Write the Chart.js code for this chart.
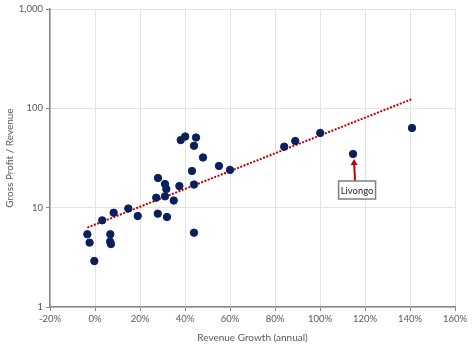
<!DOCTYPE html>
<html>
<head>
<meta charset="utf-8">
<script src="https://cdn.jsdelivr.net/npm/chart.js@4.4.1/dist/chart.umd.min.js"></script>
<style>
  html, body { margin: 0; padding: 0; background: #fff; }
  #wrap { width: 474px; height: 344px; }
</style>
</head>
<body>
<div id="wrap"><canvas id="scatter" width="474" height="344"></canvas></div>
<script>
// revenue growth (%) vs gross profit / revenue
const growthPct = [
  -3.4, -2.4, -0.3, 3.2, 6.8, 6.7, 7.1, 8.3, 14.8, 19.0,
  28.0, 27.2, 27.9, 31.1, 31.7, 31.1, 32.0, 35.0, 37.5, 38.1,
  40.1, 44.9, 44.0, 48.0, 43.1, 44.0, 44.0, 55.1, 60.0, 84.1,
  89.0, 100.1, 114.7, 140.9
];
const gpMultiple = [
  5.4, 4.45, 2.9, 7.45, 5.4, 4.55, 4.3, 8.9, 9.8, 8.25,
  19.9, 12.6, 8.7, 17.3, 15.4, 13.0, 8.05, 11.8, 16.5, 47.9,
  52, 50.8, 42, 32, 23.4, 17.1, 5.6, 26.3, 24.0, 41.1,
  46.9, 56.5, 34.7, 63.4
];

// exponential trend, end points
const trendX = [-3.4, 140.9];
const trendY = [6.3, 124];

const xTicks = [-20, 0, 20, 40, 60, 80, 100, 120, 140, 160];
const yTicks = [1, 10, 100, 1000];

const calloutName = "Livongo";
const calloutIndex = 32;

const TXT = "#595959";
const FONT = "Lato, 'Open Sans', sans-serif";

const points = growthPct.map((x, i) => ({ x, y: gpMultiple[i] }));
const trend = trendX.map((x, i) => ({ x, y: trendY[i] }));

// box + arrow pointing at one company
const callout = {
  id: "callout",
  afterDatasetsDraw(chart) {
    const meta = chart.getDatasetMeta(1);
    const el = meta.data[calloutIndex];
    if (!el) return;
    const px = el.x, py = el.y;
    const ctx = chart.ctx;
    ctx.save();

    // arrow
    ctx.strokeStyle = "#c00000";
    ctx.fillStyle = "#c00000";
    ctx.lineWidth = 2;
    ctx.beginPath();
    ctx.moveTo(px + 2, py + 27);
    ctx.lineTo(px + 1, py + 9);
    ctx.stroke();
    ctx.beginPath();
    ctx.moveTo(px + 1, py + 5);
    ctx.lineTo(px - 2.5, py + 11);
    ctx.lineTo(px + 4.5, py + 11);
    ctx.closePath();
    ctx.fill();

    // label box
    const bw = 37, bh = 18;
    const bx = px + 4 - bw / 2, by = py + 27;
    ctx.fillStyle = "#fff";
    ctx.fillRect(bx, by, bw, bh);
    ctx.strokeStyle = "#7f7f7f";
    ctx.lineWidth = 1.5;
    ctx.strokeRect(bx, by, bw, bh);
    ctx.fillStyle = "#262626";
    ctx.font = "9.5px " + FONT;
    ctx.textAlign = "center";
    ctx.textBaseline = "middle";
    ctx.fillText(calloutName, bx + bw / 2, by + bh / 2 + 0.5);
    ctx.restore();
  }
};

new Chart(document.getElementById("scatter"), {
  type: "scatter",
  data: {
    datasets: [
      {
        type: "line",
        label: "Trend",
        data: trend,
        borderColor: "#c00000",
        borderWidth: 2,
        borderDash: [2, 1.5],
        pointRadius: 0,
        fill: false,
        order: 2
      },
      {
        label: "Companies",
        data: points,
        backgroundColor: "#0a1f5c",
        borderColor: "#0a1f5c",
        pointRadius: 3.7,
        pointHoverRadius: 3.7,
        order: 1
      }
    ]
  },
  options: {
    responsive: false,
    animation: false,
    layout: { padding: { top: 9, right: 19, left: 0, bottom: 0 } },
    plugins: {
      legend: { display: false },
      tooltip: { enabled: false }
    },
    scales: {
      x: {
        type: "linear",
        min: -20,
        max: 160,
        afterBuildTicks: (s) => { s.ticks = xTicks.map(v => ({ value: v })); },
        afterFit: (s) => { s.height = 37; },
        grid: { color: "#e4e4e4", tickColor: "#868686", tickLength: 4, lineWidth: 1 },
        border: { color: "#868686", width: 1.5 },
        ticks: {
          color: TXT,
          font: { family: FONT, size: 9.5 },
          padding: 2,
          maxRotation: 0,
          callback: (v) => v + "%"
        },
        title: {
          display: true,
          text: "Revenue Growth (annual)",
          color: TXT,
          font: { family: FONT, size: 10 },
          padding: { top: 3, bottom: 0 }
        }
      },
      y: {
        type: "logarithmic",
        min: 1,
        max: 1000,
        afterBuildTicks: (s) => { s.ticks = yTicks.map(v => ({ value: v })); },
        afterFit: (s) => { s.width = 50; },
        grid: { color: "#e4e4e4", tickColor: "#868686", tickLength: 4, lineWidth: 1 },
        border: { color: "#868686", width: 1.5 },
        ticks: {
          color: TXT,
          font: { family: FONT, size: 9.5 },
          padding: 3,
          callback: (v) => v.toLocaleString("en-US")
        },
        title: {
          display: true,
          text: "Gross Profit / Revenue",
          color: TXT,
          font: { family: FONT, size: 10 },
          padding: { top: 4, bottom: 0 }
        }
      }
    }
  },
  plugins: [callout]
});
</script>
</body>
</html>
